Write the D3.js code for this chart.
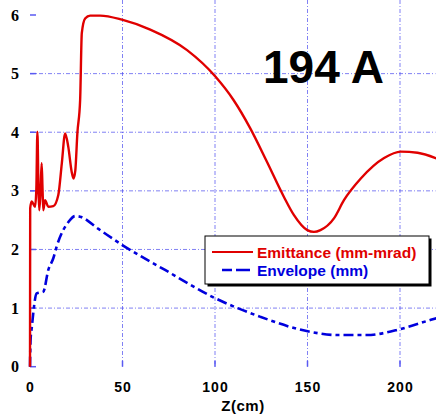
<!DOCTYPE html>
<meta charset="utf-8">
<style>
body { margin: 0; background: #fff; }
svg { display: block; }
.grid line { stroke: #4d4df0; stroke-width: 1; stroke-dasharray: 4,2,1,2; opacity: 0.7; }
.tick-y { font: bold 16px "Liberation Serif", "Times New Roman", serif; fill: #000; }
.tick-x { font: bold 14px "Liberation Sans", Arial, sans-serif; fill: #000; letter-spacing: 1px; }
</style>
<svg width="436" height="415"></svg>
<script src="https://d3js.org/d3.v7.min.js"></script>
<script>
// emittance (mm-mrad) vs Z (cm)
var emitZ = [0, 0.1, 0.9, 2.7, 3.4, 4.0, 4.6, 5.0, 5.7, 6.3, 6.8, 7.2, 8.1, 9.9, 12.6, 15.3, 17.2, 19.0, 20.7, 22.5, 23.5, 24.5, 25.6, 27.1, 28.0, 29.8, 32.5, 37.9, 49.7, 65, 84.9, 100.2, 110, 119, 128, 137.2, 142.6, 149.9, 153.5, 157, 164.3, 169.7, 178.8, 191.4, 200.4, 209.5, 220];
var emitV = [0, 2.7, 2.82, 2.73, 3.0, 4.01, 3.0, 2.67, 3.0, 3.47, 3.0, 2.67, 2.84, 2.73, 2.74, 2.93, 3.47, 3.98, 3.75, 3.33, 3.21, 3.35, 3.98, 4.55, 5.69, 5.94, 5.99, 5.99, 5.92, 5.75, 5.4, 4.95, 4.55, 4.07, 3.5, 2.9, 2.59, 2.33, 2.3, 2.33, 2.53, 2.84, 3.21, 3.56, 3.67, 3.65, 3.55];
// envelope (mm)
var envZ = [0, 0.3, 1, 3.6, 7.2, 9.9, 12.6, 14.4, 20.8, 24.4, 27, 37, 49.7, 73, 100, 124.6, 150.7, 166, 182, 200, 216.7, 220];
var envV = [0, 0.45, 0.68, 1.25, 1.28, 1.65, 1.85, 2.05, 2.47, 2.57, 2.56, 2.35, 2.08, 1.65, 1.17, 0.85, 0.6, 0.54, 0.54, 0.64, 0.8, 0.83];
var xTicks = [0, 50, 100, 150, 200];
var yTicks = [0, 1, 2, 3, 4, 5, 6];

var svg = d3.select("svg");
var x = d3.scaleLinear().domain([0, 220]).range([30, 437]);
var y = d3.scaleLinear().domain([0, 6]).range([366.7, 15]);
var left = x(0), right = 435.5, top = y(6), bottom = y(0);

// grid
var grid = svg.append("g").attr("class", "grid");
grid.selectAll(".gx").data(xTicks.slice(1)).enter().append("line")
    .attr("x1", d => x(d)).attr("x2", d => x(d)).attr("y1", top).attr("y2", bottom);
grid.selectAll(".gy").data(yTicks.slice(1, -1)).enter().append("line")
    .attr("x1", left).attr("x2", right).attr("y1", d => y(d)).attr("y2", d => y(d));

// frame + inward ticks
var frame = svg.append("g").attr("stroke", "#5a5af2").attr("stroke-width", 1.5).attr("fill", "none");
frame.append("rect").attr("x", left).attr("y", top).attr("width", right - left).attr("height", bottom - top);
xTicks.forEach(function(d) {
  frame.append("line").attr("x1", x(d)).attr("x2", x(d)).attr("y1", bottom).attr("y2", bottom - 6);
  frame.append("line").attr("x1", x(d)).attr("x2", x(d)).attr("y1", top).attr("y2", top + 6);
});
yTicks.forEach(function(d) {
  frame.append("line").attr("x1", left).attr("x2", left + 6).attr("y1", y(d)).attr("y2", y(d));
});

// tick labels
svg.selectAll(".tick-y").data(yTicks).enter().append("text")
    .attr("class", "tick-y").attr("x", 19).attr("y", d => y(d) + 5.5)
    .attr("text-anchor", "end").text(d => d);
svg.selectAll(".tick-x").data(xTicks).enter().append("text")
    .attr("class", "tick-x").attr("x", d => x(d) + 0.5).attr("y", 392)
    .attr("text-anchor", "middle").text(d => d);
svg.append("text").attr("x", 243).attr("y", 411).attr("text-anchor", "middle")
    .style("font", "bold 15px 'Liberation Sans', Arial, sans-serif").style("letter-spacing", "0.5px")
    .text("Z(cm)");

// curves
var line = d3.line().x(d => x(d[0])).y(d => y(d[1])).curve(d3.curveMonotoneX);
svg.append("path").datum(envZ.map((z, i) => [z, envV[i]]))
    .attr("d", line).attr("fill", "none").attr("stroke", "#0000dd")
    .attr("stroke-width", 2.6).attr("stroke-dasharray", "10,4,4,4");
svg.append("path").datum(emitZ.map((z, i) => [z, emitV[i]]))
    .attr("d", line).attr("fill", "none").attr("stroke", "#e00000")
    .attr("stroke-width", 2.4).attr("stroke-linejoin", "round");

// title
svg.append("text").attr("x", 263).attr("y", 83)
    .style("font", "bold 46px 'Liberation Sans', Arial, sans-serif").text("194 A");

// legend
var lg = svg.append("g");
lg.append("rect").attr("x", 207.5).attr("y", 238.5).attr("width", 224).attr("height", 48).attr("fill", "#000");
lg.append("rect").attr("x", 205).attr("y", 236).attr("width", 224).attr("height", 48)
    .attr("fill", "#fff").attr("stroke", "#000").attr("stroke-width", 1);
lg.append("line").attr("x1", 212).attr("x2", 253).attr("y1", 252).attr("y2", 252)
    .attr("stroke", "#e00000").attr("stroke-width", 2);
lg.append("line").attr("x1", 222).attr("x2", 250).attr("y1", 270).attr("y2", 270)
    .attr("stroke", "#0000dd").attr("stroke-width", 2.6).attr("stroke-dasharray", "10,4,14,0");
lg.append("text").attr("x", 257).attr("y", 258).attr("fill", "#e00000")
    .style("font", "bold 15.5px 'Liberation Sans', Arial, sans-serif").text("Emittance (mm-mrad)");
lg.append("text").attr("x", 257).attr("y", 276).attr("fill", "#0000dd")
    .style("font", "bold 15.5px 'Liberation Sans', Arial, sans-serif").text("Envelope (mm)");
</script>
